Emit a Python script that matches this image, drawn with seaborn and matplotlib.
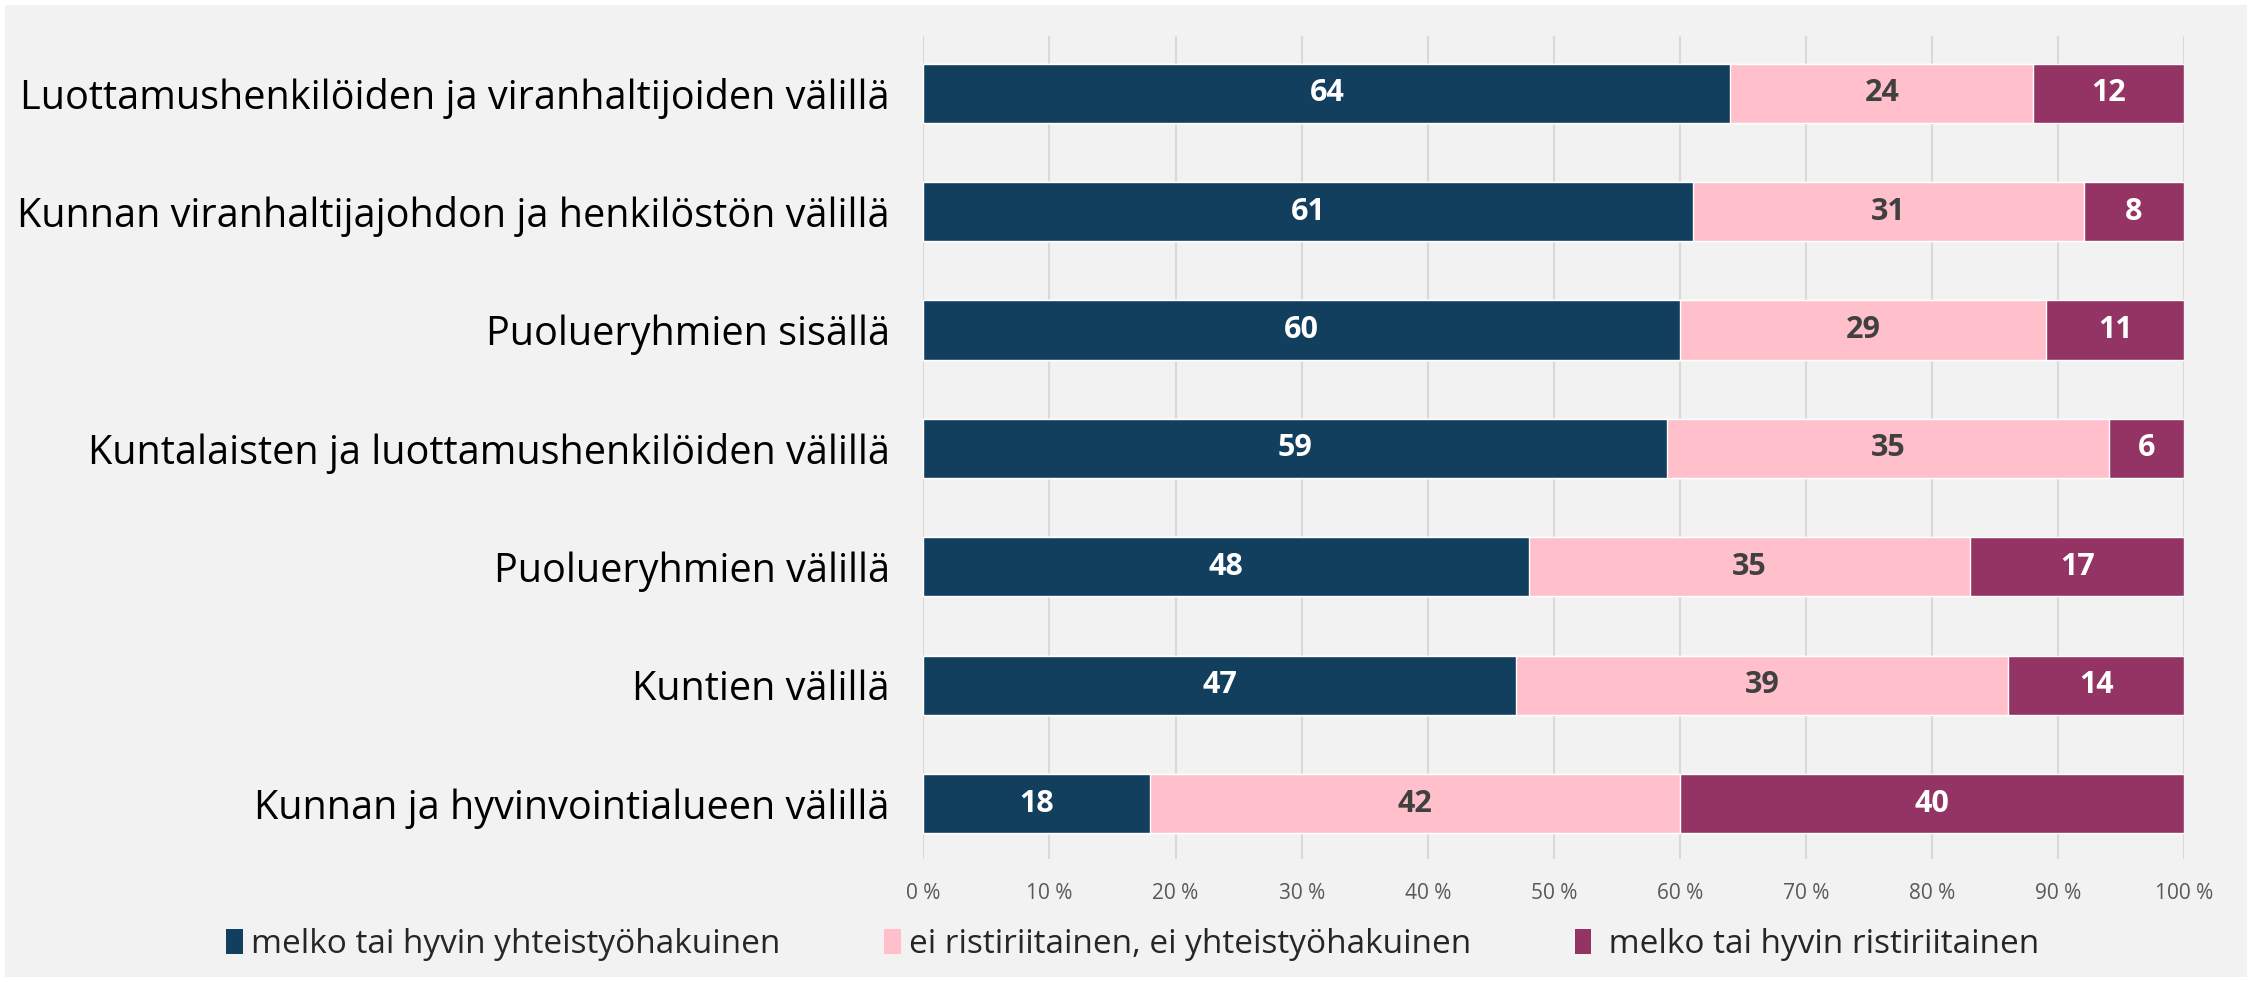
import matplotlib
matplotlib.use("Agg")
import matplotlib.pyplot as plt
from matplotlib.patches import Rectangle, Patch
import seaborn as sns
import pandas as pd
import numpy as np

categories = [
    "Luottamushenkilöiden ja viranhaltijoiden välillä",
    "Kunnan viranhaltijajohdon ja henkilöstön välillä",
    "Puolueryhmien sisällä",
    "Kuntalaisten ja luottamushenkilöiden välillä",
    "Puolueryhmien välillä",
    "Kuntien välillä",
    "Kunnan ja hyvinvointialueen välillä",
]
yhteisty = [64, 61, 60, 59, 48, 47, 18]
neutraali = [24, 31, 29, 35, 35, 39, 42]
ristiriita = [12, 8, 11, 6, 17, 14, 40]

series_names = [
    "melko tai hyvin yhteistyöhakuinen",
    "ei ristiriitainen, ei yhteistyöhakuinen",
    " melko tai hyvin ristiriitainen",
]
colors = ["#133f5f", "#ffc0cc", "#933464"]
label_colors = ["white", "#404040", "white"]

sns.set_style("white")
plt.rcParams["font.family"] = ["Open Sans", "DejaVu Sans"]

df = pd.DataFrame({"cat": categories, "a": yhteisty, "b": neutraali, "c": ristiriita})
df["ab"] = df["a"] + df["b"]
df["abc"] = df["ab"] + df["c"]

fig = plt.figure(figsize=(22.52, 9.82), dpi=100)
fig.patch.set_facecolor("white")
fig.patches.append(Rectangle((5 / 2252, 5 / 982), 1 - 10 / 2252, 1 - 10 / 982,
                             transform=fig.transFigure, facecolor="#f2f2f2",
                             edgecolor="none", zorder=-10))
ax = fig.add_axes([0.41, 0.125, 0.56, 0.838])
ax.patch.set_alpha(0)

# stacked: draw totals first, then overlay partial sums
sns.barplot(data=df, y="cat", x="abc", orient="h", color=colors[2], width=0.5,
            saturation=1, ax=ax, zorder=3)
sns.barplot(data=df, y="cat", x="ab", orient="h", color=colors[1], width=0.5,
            saturation=1, ax=ax, zorder=3)
sns.barplot(data=df, y="cat", x="a", orient="h", color=colors[0], width=0.5,
            saturation=1, ax=ax, zorder=3)

for i, row in df.iterrows():
    starts = [0, row["a"], row["ab"]]
    vals = [row["a"], row["b"], row["c"]]
    for s, v, lc in zip(starts, vals, label_colors):
        ax.text(s + v / 2, i, f"{v}", ha="center", va="center", color=lc,
                fontsize=22, fontweight="bold", zorder=5)

ax.set_xlim(0, 100)
ax.set_ylim(6.47, -0.48)
ax.set_xticks(np.arange(0, 101, 10))
ax.set_xticklabels([f"{t} %" for t in range(0, 101, 10)], fontsize=15, color="#595959")
ax.tick_params(axis="x", length=0, pad=17)
ax.tick_params(axis="y", length=0, pad=24, labelsize=28.5, labelcolor="black")
ax.grid(axis="x", color="#d9d9d9", linewidth=1.5, zorder=0)
ax.set_axisbelow(True)
for sp in ax.spines.values():
    sp.set_visible(False)
ax.set_xlabel("")
ax.set_ylabel("")

handles = [Patch(facecolor=c, edgecolor="none") for c in colors]
fig.legend(handles, series_names, loc="center", bbox_to_anchor=(0.503, 0.038),
           ncol=3, frameon=False, fontsize=24, handlelength=0.5, handleheight=0.75,
           handletextpad=0.25, columnspacing=3.1)

fig.savefig("out.png", dpi=100, facecolor=fig.get_facecolor())
